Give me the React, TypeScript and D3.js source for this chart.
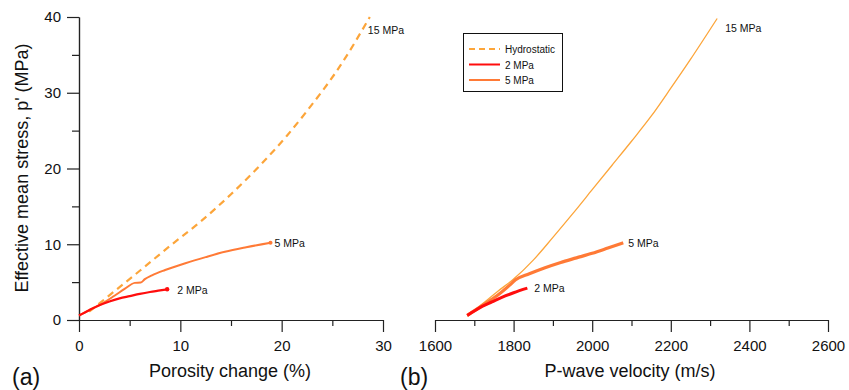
import React from "react";
import * as d3 from "d3";

// panel (a): porosity change (%) vs effective mean stress (MPa)
const hydroPorosity = [1, 3.5, 6, 9, 12, 15, 18, 20.5, 22.5, 25.8, 28.7];
const hydroStressA = [1.1, 3.8, 6.5, 9.8, 13.0, 16.6, 20.6, 24.3, 27.6, 33.6, 40];
const p2Porosity = [0, 1, 2, 3, 4, 5, 6, 7, 8, 8.7];
const p2StressA = [0.6, 1.3, 1.95, 2.45, 2.85, 3.15, 3.45, 3.7, 3.9, 4.05];
const p5Porosity = [0, 1, 2.2, 3.5, 4.5, 5.5, 6.1, 6.5, 7.2, 8.5, 10.5, 12.5, 14.4, 16.5, 18.9];
const p5StressA = [0.6, 1.3, 2.1, 3.2, 4.1, 4.9, 4.95, 5.4, 5.9, 6.6, 7.5, 8.3, 9.0, 9.6, 10.2];

// panel (b): P-wave velocity (m/s) vs effective mean stress (MPa)
const hydroVelocity = [1682, 1720, 1760, 1800, 1850, 1900, 1950, 2000, 2050, 2100, 2150, 2200, 2250, 2318];
const hydroStressB = [0.5, 2.1, 3.8, 5.4, 7.9, 10.9, 14.0, 17.2, 20.4, 23.6, 26.9, 30.6, 34.4, 39.8];
const p2Velocity = [1682, 1700, 1720, 1745, 1770, 1800, 1835];
const p2StressB = [0.6, 1.2, 1.8, 2.4, 3.0, 3.6, 4.2];
const p5Velocity = [1682, 1720, 1760, 1790, 1805, 1840, 1880, 1920, 1960, 2000, 2040, 2079];
const p5StressB = [0.6, 1.9, 3.3, 4.6, 5.3, 6.1, 6.9, 7.6, 8.2, 8.8, 9.5, 10.2];

const legendLabels = ["Hydrostatic", "2 MPa", "5 MPa"];
const endLabels = ["15 MPa", "2 MPa", "5 MPa"];

const HYDRO = "#fca53a";
const RED = "#ff0d0d";
const ORANGE = "#ff7a36";
const FONT = "'Liberation Sans', Arial, Helvetica, sans-serif";

const zip = (xs: number[], ys: number[]) => xs.map((x, i) => [x, ys[i]] as [number, number]);

export default function App() {
  const axRef = React.useRef<SVGGElement>(null);

  const y = d3.scaleLinear().domain([0, 40]).range([320, 17]);
  const xa = d3.scaleLinear().domain([0, 30]).range([79, 383]);
  const xb = d3.scaleLinear().domain([1600, 2600]).range([435, 828]);

  const lineA = d3.line<[number, number]>().x((d) => xa(d[0])).y((d) => y(d[1])).curve(d3.curveMonotoneX);
  const lineB = d3.line<[number, number]>().x((d) => xb(d[0])).y((d) => y(d[1])).curve(d3.curveMonotoneX);

  React.useEffect(() => {
    const g = d3.select(axRef.current);
    g.selectAll("*").remove();

    const styleAxis = (sel: any) => {
      sel.select(".domain").attr("stroke", "#222").attr("stroke-width", 1.2);
      sel.selectAll(".tick line").attr("stroke", "#222").attr("stroke-width", 1.2);
      sel.selectAll("text").attr("font-family", FONT).attr("font-size", 15).attr("fill", "#111");
    };

    // left y axis: minor then major
    g.append("g")
      .attr("transform", "translate(79,0)")
      .call(d3.axisLeft(y).tickValues(d3.range(5, 40, 10)).tickSize(7).tickFormat(() => "").tickSizeOuter(0))
      .call(styleAxis);
    g.append("g")
      .attr("transform", "translate(79,0)")
      .call(d3.axisLeft(y).tickValues(d3.range(0, 41, 10)).tickSize(12).tickPadding(6).tickSizeOuter(0))
      .call(styleAxis);

    // left x axis
    g.append("g")
      .attr("transform", "translate(0,320)")
      .call(d3.axisBottom(xa).tickValues(d3.range(5, 30, 10)).tickSize(6).tickFormat(() => "").tickSizeOuter(0))
      .call(styleAxis);
    g.append("g")
      .attr("transform", "translate(0,320)")
      .call(d3.axisBottom(xa).tickValues(d3.range(0, 31, 10)).tickSize(12).tickPadding(8).tickSizeOuter(0))
      .call(styleAxis);

    // right x axis
    g.append("g")
      .attr("transform", "translate(0,320)")
      .call(d3.axisBottom(xb).tickValues(d3.range(1700, 2600, 200)).tickSize(6).tickFormat(() => "").tickSizeOuter(0))
      .call(styleAxis);
    g.append("g")
      .attr("transform", "translate(0,320)")
      .call(d3.axisBottom(xb).tickValues(d3.range(1600, 2601, 200)).tickSize(12).tickPadding(8)
        .tickFormat(d3.format("d")).tickSizeOuter(0))
      .call(styleAxis);
  }, []);

  const p2A = zip(p2Porosity, p2StressA);
  const p5A = zip(p5Porosity, p5StressA);
  const p2B = zip(p2Velocity, p2StressB);
  const p5B = zip(p5Velocity, p5StressB);
  const hA = zip(hydroPorosity, hydroStressA);
  const hB = zip(hydroVelocity, hydroStressB);
  const lastOf = (a: [number, number][]) => a[a.length - 1];

  const legendColors = [HYDRO, RED, ORANGE];

  return (
    <div style={{ position: "absolute", left: 0, top: 0 }}>
      <svg width={849} height={390} style={{ display: "block", background: "#fff" }}>
        <g ref={axRef} />

        {/* panel (a) */}
        <path d={lineA(hA) || ""} fill="none" stroke={HYDRO} strokeWidth={2.2} strokeDasharray="7,5" />
        <path d={lineA(p5A) || ""} fill="none" stroke={ORANGE} strokeWidth={2} />
        <path d={lineA(p2A) || ""} fill="none" stroke={RED} strokeWidth={2.2} />
        <circle cx={xa(lastOf(p5A)[0])} cy={y(lastOf(p5A)[1])} r={2} fill={ORANGE} />
        <circle cx={xa(lastOf(p2A)[0])} cy={y(lastOf(p2A)[1])} r={2.2} fill={RED} />

        <g fontFamily={FONT} fontSize={10.5} fill="#111">
          <text x={xa(lastOf(hA)[0]) - 2} y={y(lastOf(hA)[1]) + 17}>{endLabels[0]}</text>
          <text x={xa(lastOf(p2A)[0]) + 10} y={y(lastOf(p2A)[1]) + 5}>{endLabels[1]}</text>
          <text x={xa(lastOf(p5A)[0]) + 4} y={y(lastOf(p5A)[1]) + 4}>{endLabels[2]}</text>
        </g>

        {/* panel (b) */}
        <path d={lineB(hB) || ""} fill="none" stroke={HYDRO} strokeWidth={1.3} />
        <path d={lineB(p5B) || ""} fill="none" stroke={ORANGE} strokeWidth={3.2} />
        <path d={lineB(p2B) || ""} fill="none" stroke={RED} strokeWidth={3} />

        <g fontFamily={FONT} fontSize={10.5} fill="#111">
          <text x={xb(lastOf(hB)[0]) + 8} y={y(lastOf(hB)[1]) + 13}>{endLabels[0]}</text>
          <text x={xb(lastOf(p2B)[0]) + 7} y={y(lastOf(p2B)[1]) + 4}>{endLabels[1]}</text>
          <text x={xb(lastOf(p5B)[0]) + 5} y={y(lastOf(p5B)[1]) + 4}>{endLabels[2]}</text>
        </g>

        {/* legend */}
        <rect x={463.5} y={33.5} width={99} height={58} fill="#fff" stroke="#111" strokeWidth={1} />
        {legendLabels.map((lab, i) => (
          <g key={lab} transform={`translate(469,${49 + i * 15.5})`}>
            <line x1={0} x2={31} y1={0} y2={0} stroke={legendColors[i]} strokeWidth={2}
              strokeDasharray={i === 0 ? "6,4" : undefined} />
            <text x={36} y={4} fontFamily={FONT} fontSize={10} fill="#111">{lab}</text>
          </g>
        ))}

        {/* titles */}
        <text x={230} y={377} textAnchor="middle" fontFamily={FONT} fontSize={18} fill="#111">Porosity change (%)</text>
        <text x={630} y={377} textAnchor="middle" fontFamily={FONT} fontSize={18} fill="#111">P-wave velocity (m/s)</text>
        <text transform="translate(28,168) rotate(-90)" textAnchor="middle" fontFamily={FONT} fontSize={18} fill="#111">
          Effective mean stress, p' (MPa)
        </text>
        <text x={12} y={385} fontFamily={FONT} fontSize={23} fill="#111">(a)</text>
        <text x={400} y={385} fontFamily={FONT} fontSize={23} fill="#111">(b)</text>
      </svg>
    </div>
  );
}
